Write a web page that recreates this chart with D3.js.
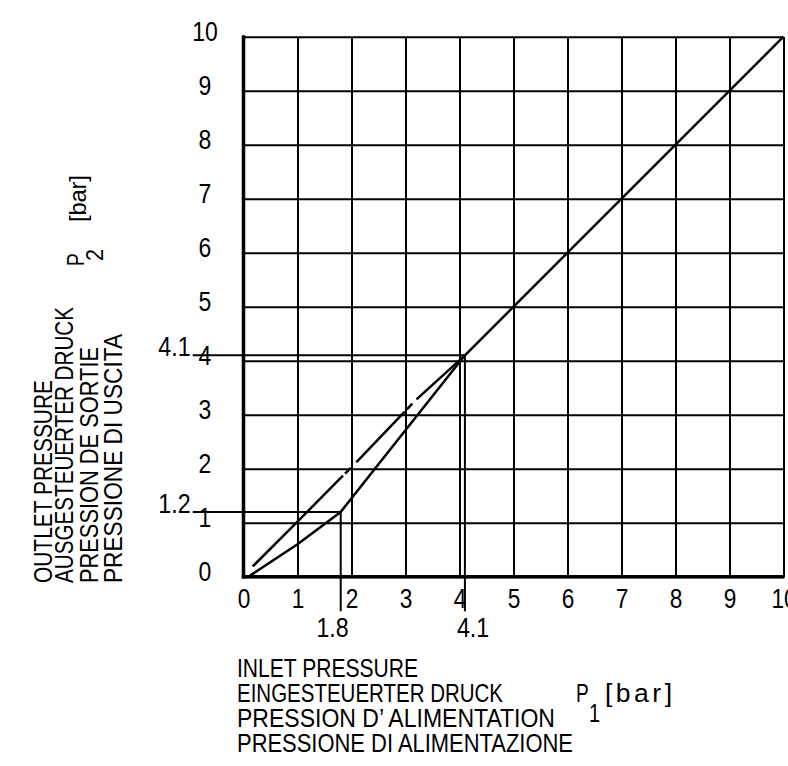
<!DOCTYPE html>
<html>
<head>
<meta charset="utf-8">
<script src="https://cdn.jsdelivr.net/npm/d3@7"></script>
<style>
body { margin: 0; background: #fff; }
svg { display: block; }
text { font-family: "Liberation Sans", Arimo, sans-serif; fill: #000; }
</style>
</head>
<body>
<script>
// chart values
var tickValues = [0, 1, 2, 3, 4, 5, 6, 7, 8, 9, 10];

var solidP1 = [0.12, 1, 1.8, 4.1, 10];
var solidP2 = [0.02, 0.6, 1.2, 4.1, 10];

var dashP1 = [0.17, 1, 2.1, 3.2, 4.1];
var dashP2 = [0.19, 1.02, 2.13, 3.28, 4.1];

var markP1 = [1.8, 4.1];
var markP2 = [1.2, 4.1];
var markLabelP1 = ["1.8", "4.1"];
var markLabelP2 = ["1.2", "4.1"];

var xTitle = ["INLET PRESSURE", "EINGESTEUERTER DRUCK", "PRESSION D\u2019 ALIMENTATION", "PRESSIONE DI ALIMENTAZIONE"];
var yTitle = ["OUTLET PRESSURE", "AUSGESTEUERTER DRUCK", "PRESSION DE SORTIE", "PRESSIONE DI USCITA"];

var dim = {
    width: 788, height: 766,
    left: 243.5, right: 783.5, top: 36.7, bottom: 576.7
};

var x = d3.scaleLinear().domain([0, 10]).range([dim.left, dim.right]);
var y = d3.scaleLinear().domain([0, 10]).range([dim.bottom, dim.top]);

// squeeze text horizontally to mimic the narrow drawing font
function squeeze(sel, k) {
    sel.each(function() {
        var w = this.getComputedTextLength();
        d3.select(this).attr("textLength", w * k).attr("lengthAdjust", "spacingAndGlyphs");
    });
}

var svg = d3.select("body").append("svg")
        .attr("width", dim.width)
        .attr("height", dim.height);

svg.append("rect")
        .attr("width", dim.width)
        .attr("height", dim.height)
        .attr("fill", "#fff");

// grid via axes
var xAxis = d3.axisBottom(x)
        .tickValues(tickValues)
        .tickFormat(d3.format("d"))
        .tickSize(-(dim.bottom - dim.top));

var gx = svg.append("g")
        .attr("class", "x grid")
        .attr("transform", "translate(0," + dim.bottom + ")")
        .call(xAxis)
        .attr("font-size", 27);
gx.select(".domain").remove();
gx.selectAll(".tick line").attr("stroke", "#000").attr("stroke-width", 2).attr("shape-rendering", "crispEdges");
gx.selectAll(".tick text").attr("y", 31).attr("dy", null).call(squeeze, 0.84);

var yAxis = d3.axisLeft(y)
        .tickValues(tickValues)
        .tickFormat(d3.format("d"))
        .tickSize(-(dim.right - dim.left));

var gy = svg.append("g")
        .attr("class", "y grid")
        .attr("transform", "translate(" + dim.left + ",0)")
        .call(yAxis)
        .attr("font-size", 28);
gy.select(".domain").remove();
gy.selectAll(".tick line").attr("stroke", "#000").attr("stroke-width", 2);
gy.selectAll(".tick text")
        .attr("x", -38.5)
        .attr("y", 4)
        .attr("dy", null)
        .attr("text-anchor", "middle")
        .call(squeeze, 0.82);

// heavy left and bottom edges
svg.append("line")
        .attr("x1", x(0)).attr("x2", x(0))
        .attr("y1", y(0) + 1.7).attr("y2", y(10) - 1.5)
        .attr("stroke", "#000").attr("stroke-width", 3.5);
svg.append("line")
        .attr("x1", x(0) - 1.7).attr("x2", x(10) + 1)
        .attr("y1", y(0)).attr("y2", y(0))
        .attr("stroke", "#000").attr("stroke-width", 3.5);

// reading lines
var marks = markP1.map(function(d, i) { return { p1: d, p2: markP2[i], l1: markLabelP1[i], l2: markLabelP2[i] }; });

var gm = svg.append("g").attr("class", "marks");
gm.selectAll("line.h").data(marks).enter().append("line")
        .attr("class", "h")
        .attr("x1", x(-0.94)).attr("x2", function(d) { return x(d.p1); })
        .attr("y1", function(d) { return y(d.p2); }).attr("y2", function(d) { return y(d.p2); })
        .attr("stroke", "#000").attr("stroke-width", 2);
gm.selectAll("line.v").data(marks).enter().append("line")
        .attr("class", "v")
        .attr("x1", function(d) { return x(d.p1); }).attr("x2", function(d) { return x(d.p1); })
        .attr("y1", function(d) { return y(d.p2); }).attr("y2", y(-0.64))
        .attr("stroke", "#000").attr("stroke-width", 2);

gm.selectAll("text.l2").data(marks).enter().append("text")
        .attr("class", "l2")
        .attr("x", x(-0.98))
        .attr("y", function(d) { return y(d.p2) + 1; })
        .attr("text-anchor", "end")
        .attr("font-size", 27)
        .text(function(d) { return d.l2; })
        .call(squeeze, 0.86);
gm.selectAll("text.l1").data(marks).enter().append("text")
        .attr("class", "l1")
        .attr("x", function(d, i) { return x(d.p1) + (i === 0 ? 8 : -8); })
        .attr("y", y(0) + 60)
        .attr("text-anchor", function(d, i) { return i === 0 ? "end" : "start"; })
        .attr("font-size", 27)
        .text(function(d) { return d.l1; })
        .call(squeeze, 0.86);

// curves
var line = d3.line()
        .x(function(d) { return x(d[0]); })
        .y(function(d) { return y(d[1]); });

svg.append("path")
        .datum(dashP1.map(function(d, i) { return [d, dashP2[i]]; }))
        .attr("d", line)
        .attr("fill", "none")
        .attr("stroke", "#000")
        .attr("stroke-width", 2.5)
        .attr("stroke-dasharray", "128,3,8,8,70,3,8,6,300");

svg.append("path")
        .datum(solidP1.map(function(d, i) { return [d, solidP2[i]]; }))
        .attr("d", line)
        .attr("fill", "none")
        .attr("stroke", "#000")
        .attr("stroke-width", 2.5)
        .attr("stroke-linejoin", "round");

// axis titles
var xTitleLen = [181, 266, 318, 336];
var xTitleBase = [677, 702, 726.5, 751.5];
svg.append("g").attr("class", "x title").selectAll("text").data(xTitle).enter().append("text")
        .attr("x", 237)
        .attr("y", function(d, i) { return xTitleBase[i]; })
        .attr("font-size", 26.5)
        .attr("textLength", function(d, i) { return xTitleLen[i]; })
        .attr("lengthAdjust", "spacingAndGlyphs")
        .text(function(d) { return d; });

var gxu = svg.append("g").attr("class", "x unit").attr("font-size", 26.5);
gxu.append("text").attr("x", 576).attr("y", 702).text("P").call(squeeze, 0.72);
gxu.append("text").attr("x", 589).attr("y", 722).text("1").call(squeeze, 0.75);
gxu.append("text").attr("x", 605).attr("y", 702).attr("letter-spacing", 3.5).text("[bar]");

var yTitleLen = [203, 276, 236, 249];
var yTitleBase = [51.7, 73.3, 98.3, 121.7];
svg.append("g").attr("class", "y title")
        .attr("transform", "rotate(-90)")
        .selectAll("text").data(yTitle).enter().append("text")
        .attr("x", -583)
        .attr("y", function(d, i) { return yTitleBase[i]; })
        .attr("font-size", 26.5)
        .attr("textLength", function(d, i) { return yTitleLen[i]; })
        .attr("lengthAdjust", "spacingAndGlyphs")
        .text(function(d) { return d; });

var gyu = svg.append("g").attr("class", "y unit").attr("transform", "rotate(-90)").attr("font-size", 24);
gyu.append("text").attr("x", -266).attr("y", 84).text("P").call(squeeze, 0.8);
gyu.append("text").attr("x", -261).attr("y", 103).text("2").call(squeeze, 0.9);
gyu.append("text").attr("x", -222).attr("y", 86).attr("textLength", 47).attr("lengthAdjust", "spacing").text("[bar]");
</script>
</body>
</html>
